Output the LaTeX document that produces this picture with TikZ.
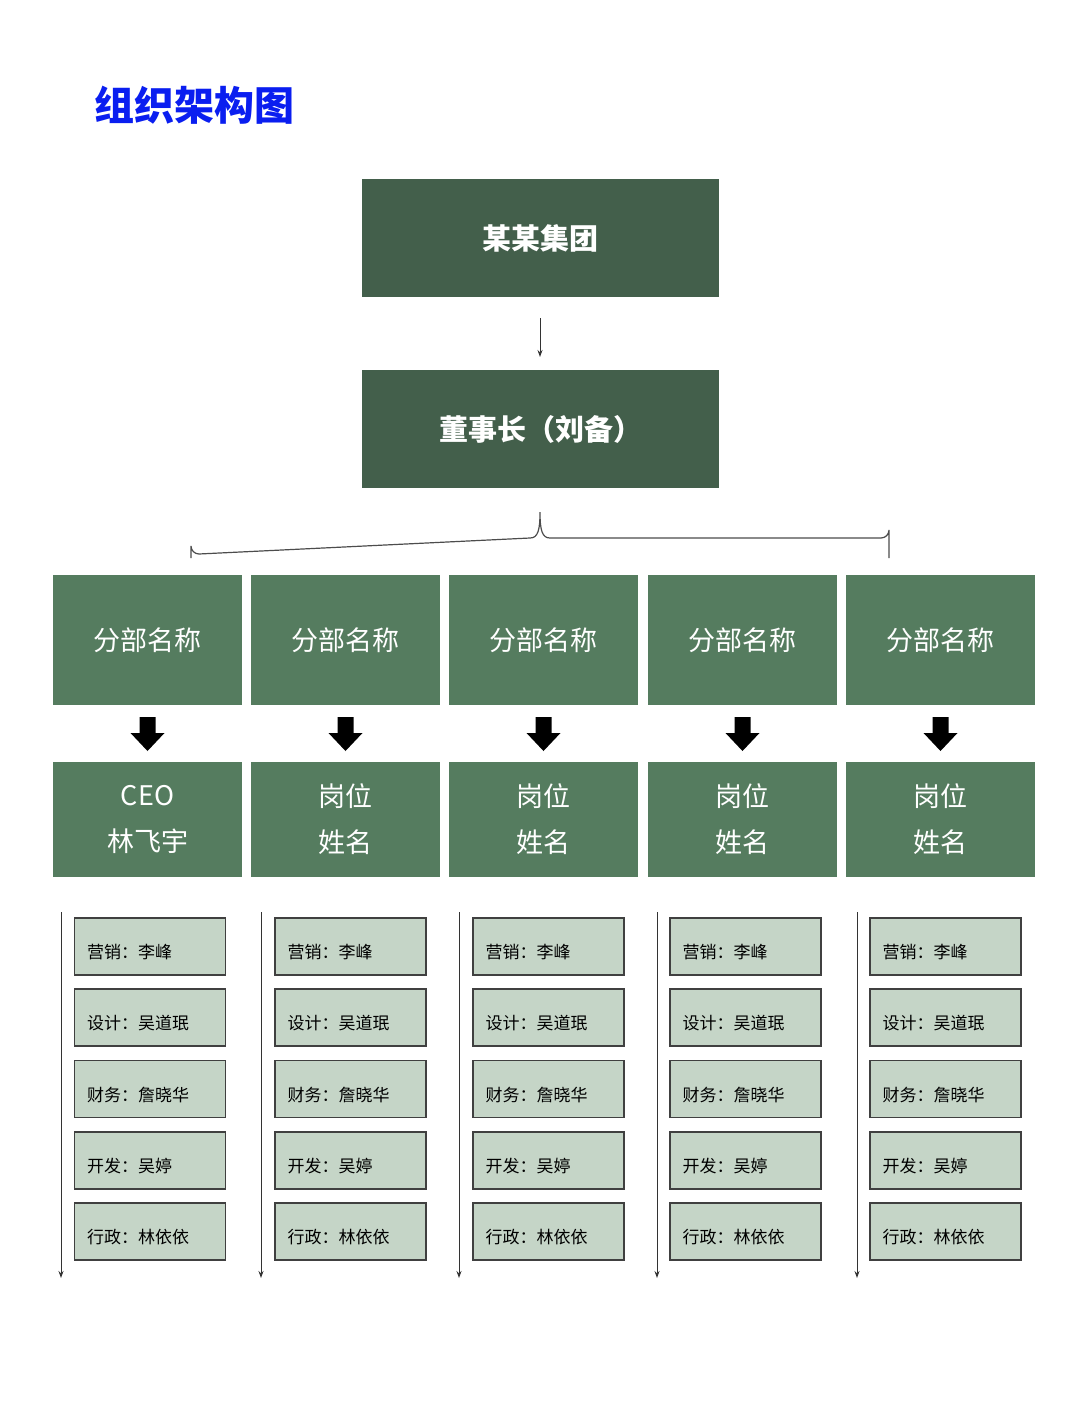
\documentclass[tikz,border=0pt]{standalone}
\usepackage{fontspec}
\setmainfont{Noto Sans CJK SC}
\usetikzlibrary{arrows.meta,calc}
\definecolor{dkg}{HTML}{435F4B}
\definecolor{mdg}{HTML}{557C5F}
\definecolor{ltg}{HTML}{C5D5C7}
\definecolor{ttl}{HTML}{0A1EF0}
\begin{document}
\begin{tikzpicture}[x=1pt,y=-1pt,
  top/.style={fill=dkg,draw=none,minimum width=357pt,minimum height=118pt,text=white,font=\bfseries\fontsize{29}{34}\selectfont,inner sep=0},
  dept/.style={fill=mdg,draw=none,minimum width=189pt,minimum height=130pt,text=white,font=\fontsize{27}{32}\selectfont,inner sep=0},
  post/.style={fill=mdg,draw=none,minimum width=189pt,minimum height=115pt,text=white,font=\fontsize{27}{32}\selectfont,inner sep=0,align=center},
  staff/.style={fill=ltg,draw=black!75,line width=1.2pt,minimum width=151pt,minimum height=57pt,font=\fontsize{17}{20}\selectfont,inner sep=0,text depth=0pt},
  thin/.style={draw=black!80,line width=1pt,-{Stealth[length=7pt,width=5pt]}}]
\useasboundingbox (0,0) rectangle (1080,1410);
\node[font=\bfseries\fontsize{40}{46}\selectfont,text=ttl,anchor=west] (title) at (91,105) {组织架构图};
\node[top] (grp) at (540.5,238) {某某集团};
\node[top] (chair) at (540.5,429) {董事长（刘备）};
\coordinate (a1) at (540,318); \coordinate (a2) at (540,357);
\draw[thin] (a1) -- (a2);
\draw[draw=black!70,line width=1.2pt] (191,558) -- (191,546) arc[start angle=180,end angle=90,radius=8] -- (530,538) .. controls (538,538) and (540,530) .. (540,512) .. controls (540,530) and (542,538) .. (550,538) -- (881,538) arc[start angle=90,end angle=0,radius=8] -- (889,558);
\foreach \i/\cx/\sx/\lx in {1/147.5/150/61,2/345.5/350.5/261,3/543.5/548.5/459,4/742.5/745.5/657,5/940.5/945.5/857}{
  \node[dept] (d\i) at (\cx,640) {分部名称};
  \fill[black] (\cx-8,717) -- (\cx+8,717) -- (\cx+8,733) -- (\cx+17,733) -- (\cx,751) -- (\cx-17,733) -- (\cx-8,733) -- cycle;
  \coordinate (vs\i) at (\lx,912); \coordinate (ve\i) at (\lx,1278);
  \draw[thin] (vs\i) -- (ve\i);
  \foreach \j/\t/\y in {1/营销：李峰/946.5,2/设计：吴道珉/1017.5,3/财务：詹晓华/1089,4/开发：吴婷/1160.5,5/行政：林依依/1231.5}{
    \node[staff] (s\i\j) at (\sx,\y) {};
    \node[anchor=west,font=\fontsize{17}{20}\selectfont,inner sep=0] (t\i\j) at ($(s\i\j.west)+(13,6)$) {\t};
  }
}
\node[post] (p1) at (147.5,819.5) {CEO\\[14pt]林飞宇};
\foreach \i/\cx in {2/345.5,3/543.5,4/742.5,5/940.5}{
  \node[post] (p\i) at (\cx,819.5) {岗位\\[14pt]姓名};
}
\end{tikzpicture}
\end{document}
